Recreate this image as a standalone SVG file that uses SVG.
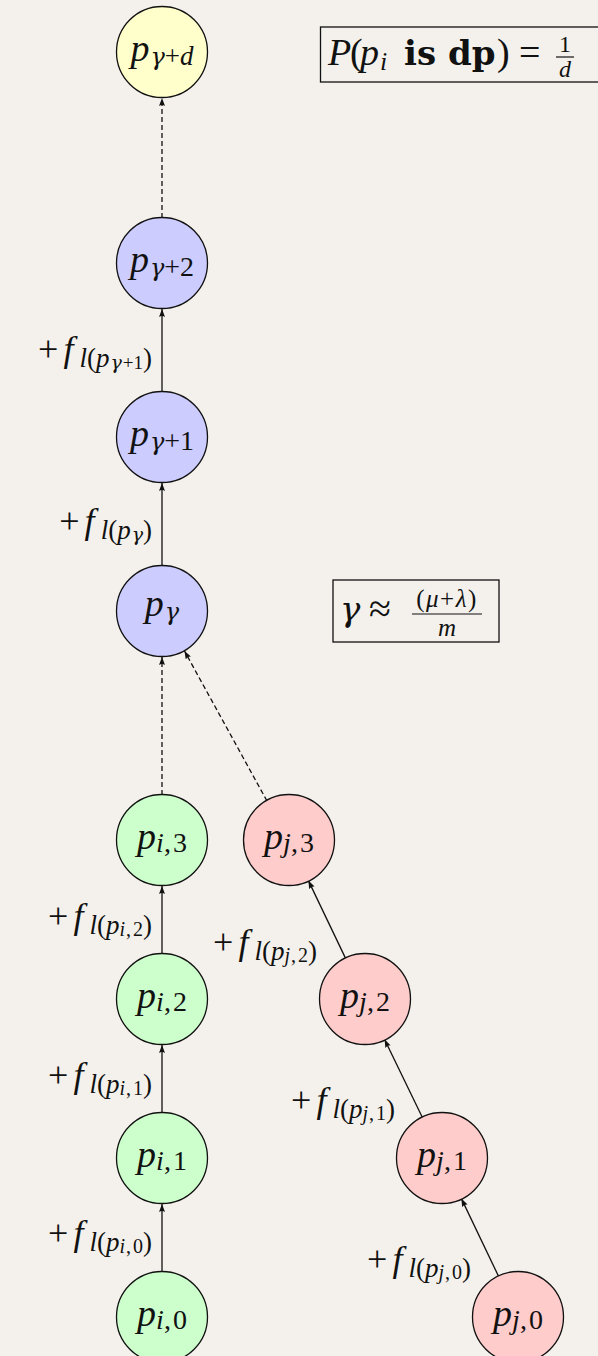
<svg xmlns="http://www.w3.org/2000/svg" width="598" height="1356" viewBox="0 0 598 1356">
<defs>
<style>
text { font-family: "Liberation Serif", "DejaVu Serif", serif; font-style: italic; fill: #111; }
.u { font-style: normal; }
.g { font-family: "DejaVu Serif", serif; font-style: italic; }
.b { font-family: "DejaVu Serif", serif; font-style: normal; font-weight: bold; }
.node circle { stroke: #111; stroke-width: 1.3; }
.nl { font-size: 38px; text-anchor: middle; }
.el { font-size: 36px; text-anchor: end; }
.yel { fill: #ffffcc; }
.blu { fill: #ccccff; }
.grn { fill: #ccffcc; }
.pnk { fill: #ffcccc; }
.edge { stroke: #111; stroke-width: 1.3; fill: none; marker-end: url(#ah); }
.dash { stroke-dasharray: 5 3; }
.box { fill: none; stroke: #111; stroke-width: 1.3; }
</style>
<marker id="ah" viewBox="0 0 8 6" refX="8" refY="3" markerWidth="8" markerHeight="6" markerUnits="userSpaceOnUse" orient="auto">
<path d="M0,0 L8,3 L0,6 Q2,3 0,0 z" fill="#111"/>
</marker>
</defs>
<rect width="598" height="1356" fill="#f4f1ec"/>

<g id="connectors">
<line class="edge dash" x1="162" y1="218" x2="162" y2="98"/>
<line class="edge" x1="162" y1="392" x2="162" y2="309"/>
<line class="edge" x1="162" y1="566" x2="162" y2="483"/>
<line class="edge dash" x1="162" y1="795" x2="162" y2="657"/>
<line class="edge dash" x1="267" y1="801" x2="184.5" y2="651"/>
<line class="edge" x1="162" y1="954" x2="162" y2="886"/>
<line class="edge" x1="162" y1="1113" x2="162" y2="1045"/>
<line class="edge" x1="162" y1="1272" x2="162" y2="1204"/>
<line class="edge" x1="345.6" y1="958.4" x2="308.4" y2="880.6"/>
<line class="edge" x1="422.4" y1="1117.5" x2="384.6" y2="1039.5"/>
<line class="edge" x1="498.6" y1="1276.4" x2="461.4" y2="1198.6"/>
</g>

<g id="edge-labels">
<text class="el" x="152" y="361"><tspan class="u">+</tspan><tspan dx="5">f</tspan><tspan font-size="27" dx="6" dy="6">l<tspan class="u">(</tspan>p<tspan font-size="19" dy="2" dx="1"><tspan class="g">γ</tspan><tspan class="u" dx="1">+1</tspan></tspan><tspan class="u" dy="-2">)</tspan></tspan></text>
<text class="el" x="152" y="533"><tspan class="u">+</tspan><tspan dx="5">f</tspan><tspan font-size="27" dx="6" dy="6">l<tspan class="u">(</tspan>p<tspan font-size="19" dy="2" dx="1" class="g">γ</tspan><tspan class="u" dy="-2">)</tspan></tspan></text>
<text class="el" x="152" y="928"><tspan class="u">+</tspan><tspan dx="5">f</tspan><tspan font-size="27" dx="6" dy="6">l<tspan class="u">(</tspan>p<tspan font-size="20" dy="2">i<tspan class="u" dx="1">,</tspan><tspan class="u" dx="2">2</tspan></tspan><tspan class="u" dy="-2">)</tspan></tspan></text>
<text class="el" x="152" y="1087"><tspan class="u">+</tspan><tspan dx="5">f</tspan><tspan font-size="27" dx="6" dy="6">l<tspan class="u">(</tspan>p<tspan font-size="20" dy="2">i<tspan class="u" dx="1">,</tspan><tspan class="u" dx="2">1</tspan></tspan><tspan class="u" dy="-2">)</tspan></tspan></text>
<text class="el" x="152" y="1245"><tspan class="u">+</tspan><tspan dx="5">f</tspan><tspan font-size="27" dx="6" dy="6">l<tspan class="u">(</tspan>p<tspan font-size="20" dy="2">i<tspan class="u" dx="1">,</tspan><tspan class="u" dx="2">0</tspan></tspan><tspan class="u" dy="-2">)</tspan></tspan></text>
<text class="el" x="317" y="954"><tspan class="u">+</tspan><tspan dx="5">f</tspan><tspan font-size="27" dx="6" dy="6">l<tspan class="u">(</tspan>p<tspan font-size="20" dy="2">j<tspan class="u" dx="1">,</tspan><tspan class="u" dx="2">2</tspan></tspan><tspan class="u" dy="-2">)</tspan></tspan></text>
<text class="el" x="395" y="1112"><tspan class="u">+</tspan><tspan dx="5">f</tspan><tspan font-size="27" dx="6" dy="6">l<tspan class="u">(</tspan>p<tspan font-size="20" dy="2">j<tspan class="u" dx="1">,</tspan><tspan class="u" dx="2">1</tspan></tspan><tspan class="u" dy="-2">)</tspan></tspan></text>
<text class="el" x="471" y="1271"><tspan class="u">+</tspan><tspan dx="5">f</tspan><tspan font-size="27" dx="6" dy="6">l<tspan class="u">(</tspan>p<tspan font-size="20" dy="2">j<tspan class="u" dx="1">,</tspan><tspan class="u" dx="2">0</tspan></tspan><tspan class="u" dy="-2">)</tspan></tspan></text>
</g>

<g id="p-gamma-d" class="node"><circle class="yel" cx="162" cy="52" r="45.5"/><text class="nl" x="162" y="61">p<tspan font-size="27" dy="4" dx="1"><tspan class="g" font-size="24">γ</tspan><tspan class="u">+</tspan>d</tspan></text></g>
<g id="p-gamma-2" class="node"><circle class="blu" cx="162" cy="263" r="45.5"/><text class="nl" x="162" y="272">p<tspan font-size="28" dy="4" dx="1"><tspan class="g" font-size="24">γ</tspan><tspan class="u">+2</tspan></tspan></text></g>
<g id="p-gamma-1" class="node"><circle class="blu" cx="162" cy="437" r="45.5"/><text class="nl" x="162" y="446">p<tspan font-size="28" dy="4" dx="1"><tspan class="g" font-size="24">γ</tspan><tspan class="u">+1</tspan></tspan></text></g>
<g id="p-gamma" class="node"><circle class="blu" cx="162" cy="611" r="45.5"/><text class="nl" x="162" y="616">p<tspan font-size="24" dy="4" dx="1" class="g">γ</tspan></text></g>

<g id="p-i-3" class="node"><circle class="grn" cx="162" cy="840" r="45.5"/><text class="nl" x="162" y="849">p<tspan font-size="28" dy="3">i<tspan class="u">,</tspan><tspan class="u" dx="2">3</tspan></tspan></text></g>
<g id="p-i-2" class="node"><circle class="grn" cx="162" cy="999" r="45.5"/><text class="nl" x="162" y="1008">p<tspan font-size="28" dy="3">i<tspan class="u">,</tspan><tspan class="u" dx="2">2</tspan></tspan></text></g>
<g id="p-i-1" class="node"><circle class="grn" cx="162" cy="1158" r="45.5"/><text class="nl" x="162" y="1167">p<tspan font-size="28" dy="3">i<tspan class="u">,</tspan><tspan class="u" dx="2">1</tspan></tspan></text></g>
<g id="p-i-0" class="node"><circle class="grn" cx="162" cy="1317" r="45.5"/><text class="nl" x="162" y="1326">p<tspan font-size="28" dy="3">i<tspan class="u">,</tspan><tspan class="u" dx="2">0</tspan></tspan></text></g>

<g id="p-j-3" class="node"><circle class="pnk" cx="289" cy="840" r="45.5"/><text class="nl" x="289" y="849">p<tspan font-size="28" dy="3">j<tspan class="u">,</tspan><tspan class="u" dx="2">3</tspan></tspan></text></g>
<g id="p-j-2" class="node"><circle class="pnk" cx="365" cy="999" r="45.5"/><text class="nl" x="365" y="1008">p<tspan font-size="28" dy="3">j<tspan class="u">,</tspan><tspan class="u" dx="2">2</tspan></tspan></text></g>
<g id="p-j-1" class="node"><circle class="pnk" cx="442" cy="1158" r="45.5"/><text class="nl" x="442" y="1167">p<tspan font-size="28" dy="3">j<tspan class="u">,</tspan><tspan class="u" dx="2">1</tspan></tspan></text></g>
<g id="p-j-0" class="node"><circle class="pnk" cx="518" cy="1317" r="45.5"/><text class="nl" x="518" y="1326">p<tspan font-size="28" dy="3">j<tspan class="u">,</tspan><tspan class="u" dx="2">0</tspan></tspan></text></g>

<g id="box-prob">
<rect class="box" x="320.5" y="27" width="290" height="55"/>
<text x="328" y="65" font-size="38">P<tspan class="u" x="350">(</tspan><tspan x="360">p</tspan><tspan font-size="26" dy="5" x="380">i</tspan><tspan class="b" font-size="34" dy="-5" x="404">is</tspan><tspan class="b" font-size="34" x="448">dp</tspan><tspan class="u" x="497">)</tspan><tspan class="u" x="519">=</tspan></text>
<text x="565" y="52" font-size="24" text-anchor="middle" class="u">1</text>
<line x1="556" y1="57" x2="574" y2="57" stroke="#111" stroke-width="1.2"/>
<text x="565" y="77" font-size="24" text-anchor="middle">d</text>
</g>

<g id="box-gamma">
<rect class="box" x="333" y="580" width="166" height="62"/>
<text x="340" y="621" font-size="34" class="g">γ</text>
<text x="369" y="622" font-size="40" class="u">≈</text>
<text x="447" y="607" font-size="25" text-anchor="middle" class="u" letter-spacing="1.5">(<tspan style="font-style:italic">μ</tspan>+<tspan style="font-style:italic">λ</tspan>)</text>
<line x1="412" y1="614" x2="482" y2="614" stroke="#111" stroke-width="1.2"/>
<text x="447" y="636" font-size="25" text-anchor="middle">m</text>
</g>
</svg>
